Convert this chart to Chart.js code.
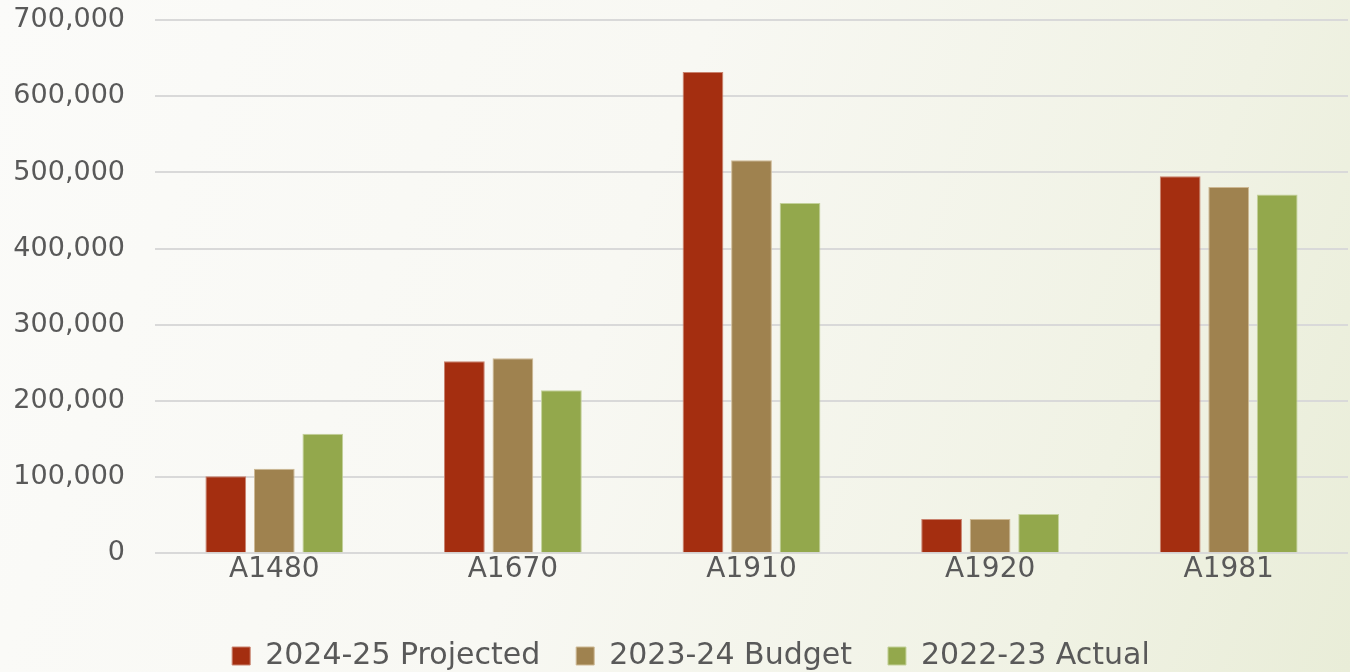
<!DOCTYPE html>
<html>
<head>
<meta charset="utf-8">
<script src="https://cdn.jsdelivr.net/npm/chart.js@4"></script>
<style>
  html, body { margin: 0; padding: 0; }
  body {
    width: 1350px; height: 672px; overflow: hidden; position: relative;
    background: linear-gradient(110deg, #fbfbf9 0%, #f8f8f3 45%, #f0f2e4 80%, #e9edd8 100%);
  }
  #wrap { width: 1350px; height: 698px; position: absolute; left: 0; top: -26px; }
</style>
</head>
<body>
<div id="wrap"><canvas id="grafico"></canvas></div>
<script>
// categorias e valores
const categorias = ["A1480", "A1670", "A1910", "A1920", "A1981"];
const projetado = [101000, 252000, 632000, 45000, 495000];
const orcamento = [111000, 256000, 516000, 45000, 481000];
const realizado = [157000, 214000, 460000, 51500, 471000];
const nomesSeries = ["2024-25 Projected", "2023-24 Budget", "2022-23 Actual"];
const cores = ["#a42e10", "#9f824f", "#93a84c"];
const bordas = ["#c9826e", "#cdb893", "#c3d19a"];

const fonte = "'Century Gothic', 'DejaVu Sans', sans-serif";

function serie(i, dados) {
  return {
    label: nomesSeries[i],
    data: dados,
    backgroundColor: cores[i],
    borderColor: bordas[i],
    borderWidth: 1,
    barPercentage: 0.84,
    categoryPercentage: 0.61,
  };
}

// empurra a legenda um pouco pra direita
const moverLegenda = {
  id: "moverLegenda",
  afterLayout(chart) {
    chart.legend.left += 17;
    chart.legend.right += 17;
  },
};

var ctx = document.getElementById("grafico").getContext("2d");
var myChart = new Chart(ctx, {
  type: "bar",
  data: {
    labels: categorias,
    datasets: [serie(0, projetado), serie(1, orcamento), serie(2, realizado)],
  },
  plugins: [moverLegenda],
  options: {
    responsive: true,
    maintainAspectRatio: false,
    animation: false,
    layout: { padding: { top: 0, right: 2, bottom: -9, left: 0 } },
    plugins: {
      tooltip: { enabled: false },
      legend: {
        position: "bottom",
        // titulo vazio so para dar espaco acima da legenda
        title: { display: true, text: " ", font: { size: 1 }, padding: { top: 13, bottom: 12 } },
        labels: {
          boxWidth: 18,
          boxHeight: 18,
          color: "#595959",
          padding: 36,
          font: { family: fonte, size: 30 },
        },
      },
    },
    scales: {
      x: {
        grid: { display: false },
        border: { display: false },
        ticks: { color: "#595959", padding: -8, font: { family: fonte, size: 28 } },
      },
      y: {
        min: 0,
        max: 700000,
        afterFit: function (escala) { escala.width = 155; },
        grid: { color: "#d9d9d9", lineWidth: 2, drawTicks: false },
        border: { display: false },
        ticks: {
          stepSize: 100000,
          color: "#595959",
          padding: 30,
          font: { family: fonte, size: 27 },
          callback: function (v) { return v.toLocaleString("en-US"); },
        },
      },
    },
  },
});
</script>
</body>
</html>
